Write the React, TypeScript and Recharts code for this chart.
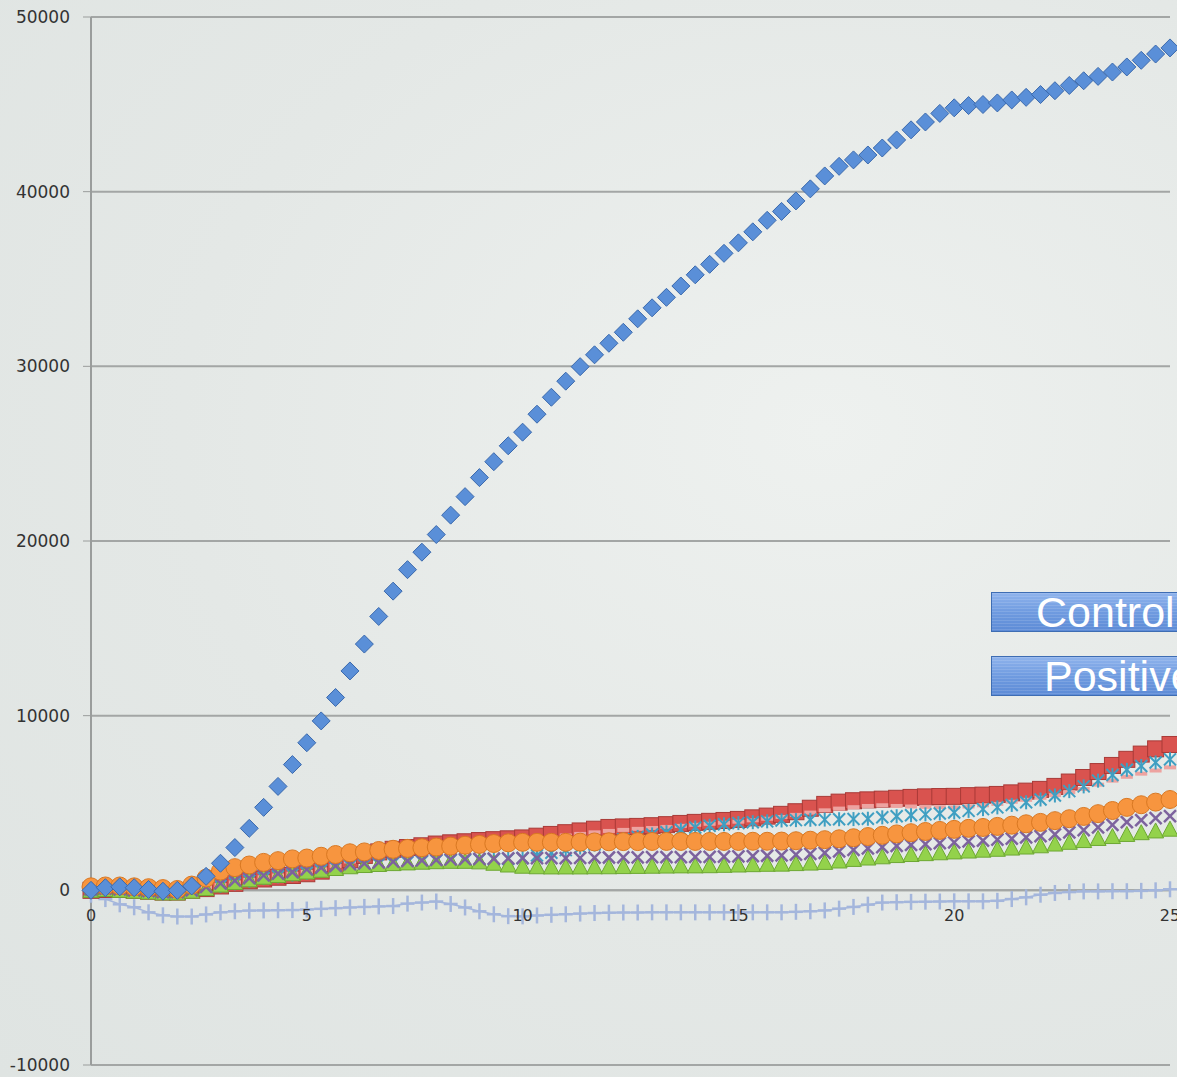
import React from "react"
import { LineChart, Line, XAxis, YAxis, CartesianGrid, ReferenceLine, ReferenceDot } from "recharts"

// sample times: three readings per unit, 0 .. 25
const times = Array.from({ length: 76 }, (_, i) => i / 3)

const xTicks = [0, 5, 10, 15, 20, 25]
const yTicks = [-10000, 0, 10000, 20000, 30000, 40000, 50000]

const blue = [
  0, 150, 200, 150, 50, -50, 0, 250, 800, 1550, 2450, 3550,
  4750, 5950, 7200, 8450, 9700, 11040, 12560, 14100, 15680, 17130, 18360, 19360,
  20370, 21480, 22540, 23630, 24540, 25450, 26230, 27260, 28230, 29150, 29980, 30660,
  31320, 31950, 32720, 33350, 33950, 34600, 35240, 35840, 36470, 37070, 37700, 38360,
  38870, 39470, 40160, 40900, 41450, 41820, 42100, 42500, 42960, 43540, 43990, 44480,
  44800, 44930, 44990, 45080, 45250, 45400, 45560, 45780, 46080, 46350, 46600, 46850,
  47140, 47520, 47880, 48230,
]

const red = [
  0, 50, 50, 0, -50, -100, -100, 0, 100, 250, 400, 550,
  650, 750, 850, 950, 1100, 1400, 1750, 2000, 2200, 2350, 2450, 2550,
  2650, 2720, 2780, 2850, 2900, 2950, 3000, 3100, 3200, 3300, 3400, 3500,
  3600, 3630, 3660, 3700, 3760, 3830, 3890, 3950, 4000, 4060, 4150, 4250,
  4350, 4500, 4700, 4920, 5050, 5130, 5180, 5220, 5270, 5320, 5350, 5370,
  5380, 5420, 5450, 5490, 5580, 5680, 5780, 5950, 6200, 6460, 6800, 7150,
  7500, 7800, 8100, 8350,
]

const pink = [
  100, 150, 100, 50, 0, -50, -50, 100, 200, 300, 450, 600,
  750, 850, 950, 1050, 1200, 1400, 1650, 1850, 2050, 2200, 2300, 2400,
  2500, 2570, 2640, 2700, 2760, 2820, 2880, 2960, 3050, 3140, 3230, 3320,
  3400, 3460, 3520, 3570, 3630, 3690, 3750, 3810, 3870, 3930, 4010, 4100,
  4200, 4320, 4450, 4580, 4680, 4760, 4830, 4870, 4830, 4800, 4780, 4760,
  4750, 4800, 4870, 4950, 5070, 5180, 5300, 5450, 5620, 5800, 6050, 6280,
  6500, 6680, 6860, 7040,
]

const teal = [
  0, 50, 0, -50, -100, -150, -150, -50, 100, 250, 400, 550,
  700, 800, 900, 1000, 1150, 1300, 1400, 1450, 1500, 1550, 1600, 1650,
  1700, 1720, 1740, 1760, 1780, 1800, 1850, 2000, 2150, 2300, 2450, 2620,
  2800, 2930, 3060, 3200, 3330, 3470, 3600, 3700, 3780, 3850, 3900, 3950,
  4000, 4020, 4040, 4050, 4070, 4080, 4100, 4180, 4240, 4300, 4350, 4400,
  4460, 4550, 4650, 4750, 4890, 5040, 5200, 5430, 5680, 5950, 6280, 6600,
  6900, 7120, 7320, 7500,
]

const purple = [
  50, 100, 50, 0, -50, -100, -100, 0, 200, 400, 550, 700,
  850, 950, 1050, 1200, 1300, 1400, 1500, 1550, 1600, 1650, 1680, 1720,
  1750, 1770, 1790, 1800, 1820, 1830, 1850, 1850, 1850, 1850, 1860, 1870,
  1880, 1890, 1890, 1900, 1900, 1900, 1910, 1920, 1930, 1950, 1960, 1980,
  2000, 2040, 2090, 2150, 2230, 2320, 2400, 2470, 2540, 2600, 2650, 2700,
  2750, 2800, 2850, 2900, 2960, 3030, 3100, 3200, 3320, 3450, 3600, 3750,
  3900, 4020, 4140, 4250,
]

const green = [
  0, 50, 0, -50, -100, -150, -150, -50, 100, 300, 450, 600,
  750, 850, 950, 1050, 1150, 1250, 1350, 1420, 1480, 1530, 1570, 1610,
  1640, 1660, 1660, 1630, 1550, 1450, 1380, 1350, 1340, 1340, 1340, 1350,
  1350, 1360, 1370, 1380, 1390, 1400, 1400, 1410, 1430, 1450, 1470, 1490,
  1500, 1530, 1560, 1600, 1680, 1770, 1850, 1920, 1990, 2050, 2100, 2150,
  2200, 2250, 2300, 2350, 2420, 2480, 2550, 2650, 2750, 2850, 2970, 3080,
  3200, 3300, 3400, 3500,
]

const orange = [
  200, 250, 250, 200, 150, 100, 50, 300, 700, 1100, 1300, 1450,
  1600, 1700, 1800, 1850, 1950, 2050, 2150, 2200, 2280, 2350, 2400, 2440,
  2480, 2530, 2580, 2630, 2680, 2720, 2750, 2750, 2750, 2750, 2760, 2770,
  2780, 2790, 2790, 2800, 2800, 2800, 2800, 2800, 2800, 2800, 2810, 2810,
  2820, 2840, 2870, 2900, 2950, 3010, 3080, 3150, 3230, 3300, 3370, 3430,
  3490, 3550, 3600, 3660, 3730, 3810, 3890, 3990, 4100, 4230, 4390, 4570,
  4750, 4900, 5050, 5200,
]

const negative = [
  -250, -500, -800, -970, -1260, -1430, -1500, -1500, -1380, -1260, -1200, -1160,
  -1150, -1140, -1130, -1100, -1060, -1020, -980, -950, -920, -900, -760, -700,
  -640, -780, -980, -1200, -1370, -1480, -1490, -1440, -1400, -1370, -1330, -1300,
  -1280, -1270, -1270, -1260, -1260, -1260, -1260, -1260, -1260, -1260, -1260, -1260,
  -1260, -1230, -1200, -1150, -1050, -950, -820, -700, -680, -660, -650, -640,
  -630, -630, -630, -600, -500, -400, -250, -150, -100, -60, -60, -50,
  -50, -30, 0, 60,
]

const data = times.map((t, i) => ({
  t,
  blue: blue[i],
  red: red[i],
  pink: pink[i],
  teal: teal[i],
  purple: purple[i],
  green: green[i],
  orange: orange[i],
  negative: negative[i],
}))

type Kind = "diamond" | "square" | "dash" | "star" | "cross" | "triangle" | "circle" | "plus"

const marker = (kind: Kind, fill: string, stroke: string) => (props: any) => {
  const { cx, cy, index } = props
  const key = `${kind}-${index}`
  if (cx == null || cy == null) return <g key={key} />
  switch (kind) {
    case "diamond":
      return (
        <path key={key} d={`M${cx},${cy - 9} L${cx + 9},${cy} L${cx},${cy + 9} L${cx - 9},${cy} Z`}
          fill={fill} stroke={stroke} strokeWidth={1} />
      )
    case "square":
      return <rect key={key} x={cx - 8} y={cy - 8} width={16} height={16} fill={fill} stroke={stroke} strokeWidth={1} />
    case "dash":
      return <rect key={key} x={cx - 6} y={cy - 2} width={12} height={4} fill={fill} />
    case "star":
      return (
        <g key={key} stroke={fill} strokeWidth={2}>
          <line x1={cx - 6} y1={cy - 6} x2={cx + 6} y2={cy + 6} />
          <line x1={cx - 6} y1={cy + 6} x2={cx + 6} y2={cy - 6} />
          <line x1={cx} y1={cy - 7} x2={cx} y2={cy + 7} />
        </g>
      )
    case "cross":
      return (
        <g key={key} stroke={fill} strokeWidth={2.5}>
          <line x1={cx - 6} y1={cy - 6} x2={cx + 6} y2={cy + 6} />
          <line x1={cx - 6} y1={cy + 6} x2={cx + 6} y2={cy - 6} />
        </g>
      )
    case "triangle":
      return (
        <path key={key} d={`M${cx},${cy - 8} L${cx + 8},${cy + 7} L${cx - 8},${cy + 7} Z`}
          fill={fill} stroke={stroke} strokeWidth={1} />
      )
    case "circle":
      return <circle key={key} cx={cx} cy={cy} r={9} fill={fill} stroke={stroke} strokeWidth={1} />
    case "plus":
      return (
        <g key={key} stroke={fill} strokeWidth={2.5}>
          <line x1={cx - 7} y1={cy} x2={cx + 7} y2={cy} />
          <line x1={cx} y1={cy - 8} x2={cx} y2={cy + 8} />
        </g>
      )
  }
}

const series: { key: string; kind: Kind; fill: string; stroke: string }[] = [
  { key: "negative", kind: "plus", fill: "#a4b6dc", stroke: "#a4b6dc" },
  { key: "red", kind: "square", fill: "#d9534f", stroke: "#a93a37" },
  { key: "pink", kind: "dash", fill: "#eda3a0", stroke: "#eda3a0" },
  { key: "teal", kind: "star", fill: "#3f9fc2", stroke: "#3f9fc2" },
  { key: "green", kind: "triangle", fill: "#93d24b", stroke: "#6da833" },
  { key: "purple", kind: "cross", fill: "#7d639e", stroke: "#7d639e" },
  { key: "orange", kind: "circle", fill: "#f7953f", stroke: "#d97822" },
  { key: "blue", kind: "diamond", fill: "#5a8fd8", stroke: "#3a69ad" },
]

const tagStyle = (top: number, padLeft: number): React.CSSProperties => ({
  position: "absolute",
  left: 991,
  top,
  width: 260,
  height: 40,
  lineHeight: "38px",
  paddingLeft: padLeft,
  boxSizing: "border-box",
  border: "1px solid #3e6db3",
  background:
    "repeating-linear-gradient(180deg, rgba(255,255,255,0.12) 0px, rgba(255,255,255,0.12) 1px, rgba(0,0,0,0) 1px, rgba(0,0,0,0) 3px), linear-gradient(180deg, #8fb3ec 0%, #6f9be0 50%, #5d8bd6 100%)",
  color: "#ffffff",
  fontFamily: "'Liberation Sans', Arial, sans-serif",
  fontSize: 43,
  whiteSpace: "nowrap",
})

export default function App() {
  return (
    <div
      style={{
        position: "absolute",
        left: 0,
        top: 0,
        width: 1177,
        height: 1077,
        overflow: "hidden",
        background: "radial-gradient(ellipse at 70% 40%, #eef1ef 0%, #e4e8e6 55%, #dfe4e2 100%)",
      }}
    >
      <LineChart width={1177} height={1077} data={data} margin={{ top: 17, right: 7, bottom: 12, left: 0 }}>
        <CartesianGrid vertical={false} stroke="#a3a6a5" strokeWidth={2} />
        <XAxis dataKey="t" type="number" domain={[0, 25]} ticks={xTicks} hide />
        <YAxis
          width={91}
          domain={[-10000, 50000]}
          ticks={yTicks}
          axisLine={{ stroke: "#9a9d9c", strokeWidth: 2 }}
          tickLine={{ stroke: "#9a9d9c" }}
          tickSize={8}
          tickMargin={13}
          tick={{ fontSize: 17, fill: "#333", fontFamily: "'DejaVu Sans', sans-serif" }}
        />
        <ReferenceLine y={0} stroke="#a3a6a5" strokeWidth={2} />
        {xTicks.map((x) => (
          <ReferenceDot
            key={`xt-${x}`}
            x={x}
            y={0}
            r={0}
            fill="none"
            stroke="none"
            label={{ value: String(x), position: "bottom", offset: 19, fontSize: 16, fill: "#333", fontFamily: "'DejaVu Sans', sans-serif" }}
          />
        ))}
        {series.map((s) => (
          <Line
            key={s.key}
            dataKey={s.key}
            type="linear"
            stroke={s.kind === "plus" ? s.fill : "none"}
            strokeWidth={s.kind === "plus" ? 1.5 : 0}
            dot={marker(s.kind, s.fill, s.stroke)}
            activeDot={false}
            isAnimationActive={false}
          />
        ))}
      </LineChart>
      <div style={tagStyle(592, 44)}>Control</div>
      <div style={tagStyle(656, 52)}>Positive</div>
    </div>
  )
}
